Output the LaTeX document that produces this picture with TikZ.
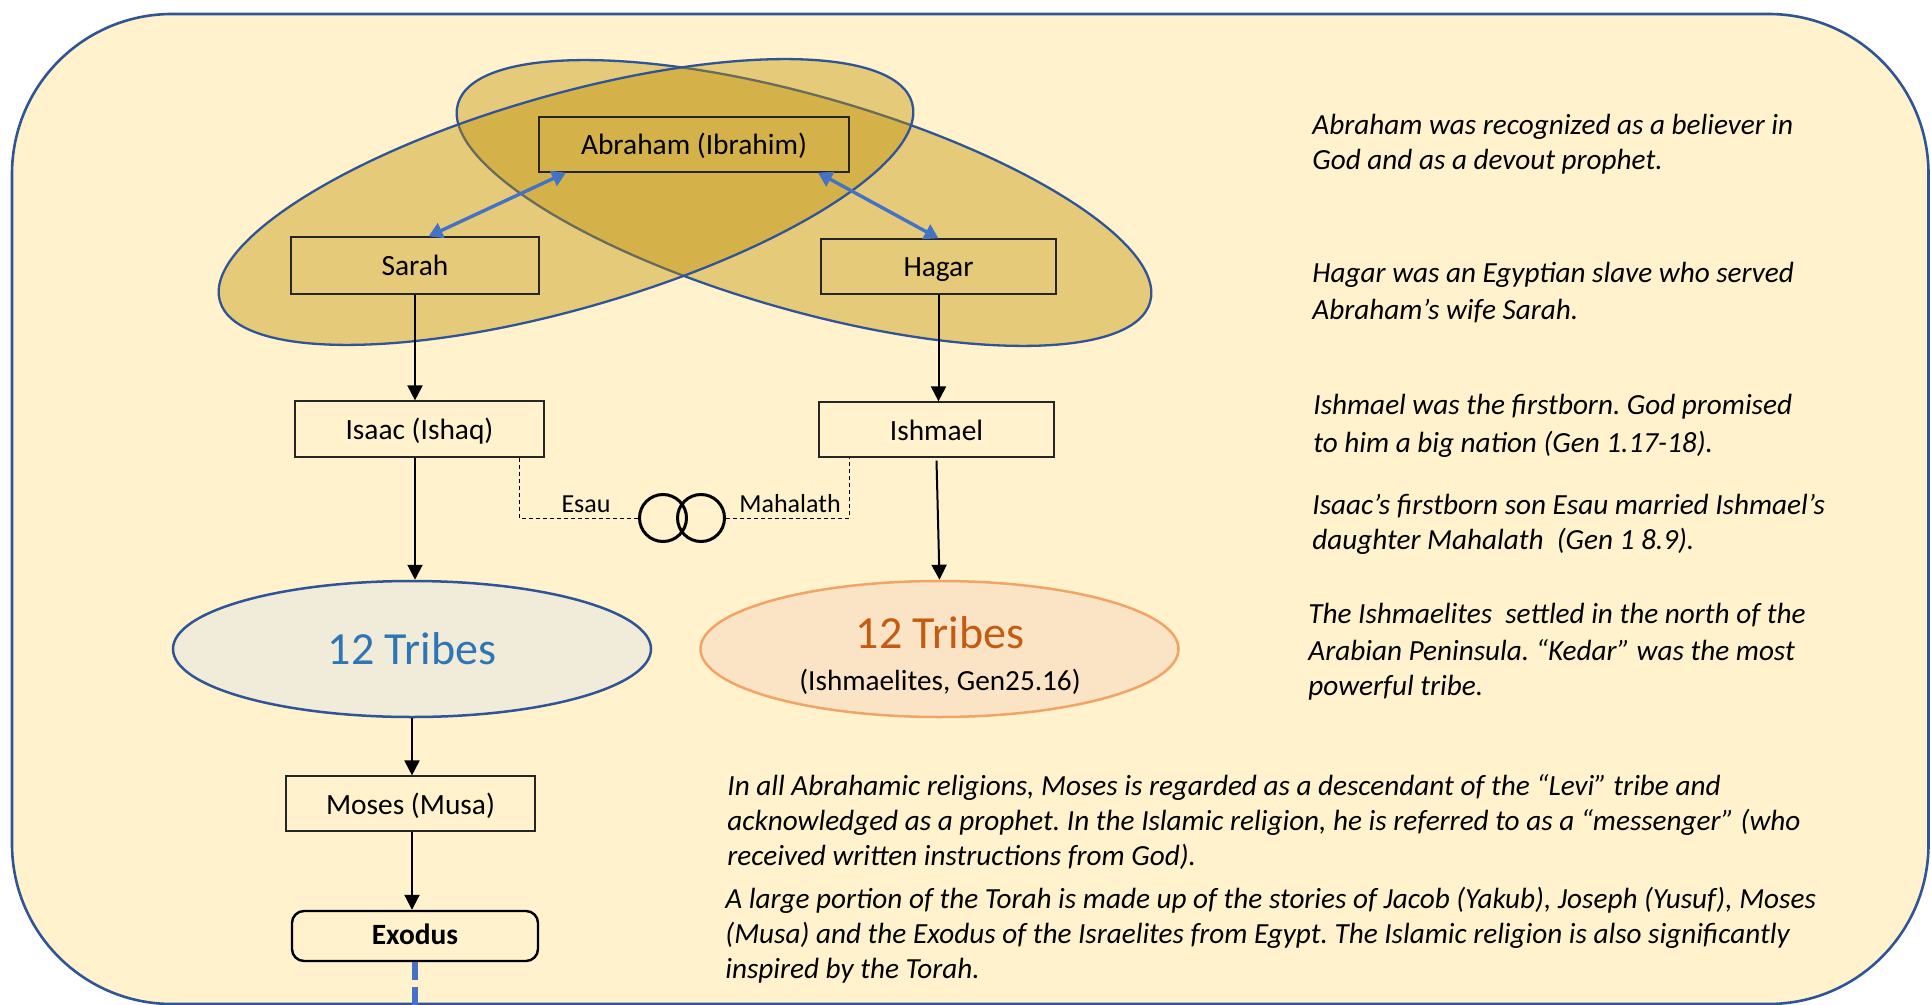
\documentclass[tikz,border=0pt]{standalone}
\usepackage{fontspec}
\setmainfont{Carlito}
\frenchspacing
\usetikzlibrary{arrows.meta,shapes.geometric,calc}
\definecolor{bg}{HTML}{FFF2CC}
\definecolor{outl}{HTML}{2F5597}
\definecolor{gold}{HTML}{BF8F00}
\definecolor{arrowblue}{HTML}{4472C4}
\definecolor{boxline}{HTML}{262626}
\definecolor{tlfill}{HTML}{F1EBD9}
\definecolor{tlblue}{HTML}{2E75B6}
\definecolor{trfill}{HTML}{FBE4C5}
\definecolor{trline}{HTML}{F2A366}
\definecolor{trtext}{HTML}{C55A11}
\tikzset{
  frame/.style={draw=outl, line width=1.3pt, fill=bg, rounded corners=80pt},
  ell/.style={draw=outl, line width=1.15pt, fill=gold, fill opacity=0.4},
  box/.style={draw=boxline, line width=0.6pt, minimum height=27.5pt, inner sep=0pt, text height=12pt, text depth=1.5pt, font=\fontsize{14.7}{16}\selectfont},
  arr/.style={-{Triangle[width=7.5pt,length=7.5pt]}, line width=1pt, black},
  barr/.style={{Triangle[width=8pt,length=7pt]}-{Triangle[width=8pt,length=7pt]}, line width=1.7pt, arrowblue},
  marry/.style={draw=black, line width=0.5pt, dash pattern=on 2pt off 1.5pt},
  ringc/.style={circle, draw=black, line width=1.5pt, minimum size=23.5pt, inner sep=0pt},
  lbl/.style={inner sep=0pt, anchor=base, font=\fontsize{13}{15}\selectfont},
  tribeL/.style={ellipse, draw=outl, line width=1.25pt, fill=tlfill, minimum width=239pt, minimum height=68pt, inner sep=0pt, text=tlblue, font=\fontsize{23}{26}\selectfont},
  tribeR/.style={ellipse, draw=trline, line width=1.25pt, fill=trfill, minimum width=239pt, minimum height=68pt, inner sep=0pt},
  bdash/.style={draw=arrowblue, line width=2.6pt, dash pattern=on 9pt off 3.5pt},
  note/.style={anchor=base west, inner sep=0pt, font=\fontsize{14.6}{17.5}\selectfont\itshape}
}
\begin{document}
\begin{tikzpicture}[x=0.5pt,y=-0.5pt]
\useasboundingbox (0,0) rectangle (1931,1005);
\path[frame] (12,14) rectangle (1928.5,1004);
% ellipses
\path[ell, rotate around={-16:(804,203)}] (804,203) ellipse [x radius=180pt, y radius=53.5pt];
\path[ell, rotate around={16:(566,202)}] (566,202) ellipse [x radius=180pt, y radius=53.5pt];
% nodes
\node[box, minimum width=155pt] (abr) at (694,144.5) {Abraham (Ibrahim)};
\node[box, minimum width=124pt, minimum height=28.5pt] (sarah) at (415,265.5) {Sarah};
\node[box, minimum width=117.5pt] (hagar) at (938.5,266.5) {Hagar};
\node[box, minimum width=124.5pt, minimum height=28pt] (isaac) at (419.5,429) {Isaac (Ishaq)};
\node[box, minimum width=117.5pt] (ish) at (936.5,429.5) {Ishmael};
\node[tribeL] (tl) at (412,649) {12 Tribes};
\node[tribeR] (tr) at (939.5,649) {};
\node[anchor=base, inner sep=0pt, text=trtext, font=\fontsize{23}{26}\selectfont] (trA) at (940,648) {12 Tribes};
\node[anchor=base, inner sep=0pt, font=\fontsize{14.6}{17}\selectfont] (trB) at (940,690) {(Ishmaelites, Gen25.16)};
\node[box, minimum width=124.5pt] (moses) at (410.5,803.5) {Moses (Musa)};
\node[box, draw=black, line width=1.2pt, rounded corners=6pt, minimum width=123pt, minimum height=25pt, text height=10pt, text depth=1.5pt, font=\fontsize{14.7}{16}\selectfont\bfseries] (exo) at (415,936) {Exodus};
% marriage ring
\node[ringc] (r1) at (663,518) {};
\node[ringc] (r2) at (701,518) {};
\node[lbl] (esau) at (586,512) {Esau};
\node[lbl] (mah) at (790,512) {Mahalath};
\coordinate (e1) at ([xshift=-12.5pt]isaac.south east);
\coordinate (m1) at ([xshift=15.5pt]ish.south west);
\draw[marry] (e1) |- (r1.west);
\draw[marry] (r2.east) -| (m1);
% blue double arrows
\coordinate (sa) at ([xshift=6.8pt]sarah.north);
\coordinate (as) at ([xshift=-64pt]abr.south);
\coordinate (ah) at ([xshift=62pt]abr.south);
\draw[barr] (sa) -- (as);
\draw[barr] (ah) -- (hagar.north);
% black arrows
\draw[arr] (sarah.south) -- (sarah.south |- isaac.north);
\draw[arr] (hagar.south) -- (hagar.south |- ish.north);
\draw[arr] (isaac.south -| sarah.south) -- (tl.north -| sarah.south);
\draw[arr] ([yshift=-1.5pt]ish.south) -- (tr.north);
\draw[arr] (tl.south) -- (tl.south |- moses.north);
\draw[arr] (moses.south -| tl.south) -- (exo.north -| tl.south);
\coordinate (exend) at (415,1006);
\draw[bdash] (exo.south) -- (exend);
% right notes
\node[note] (n1a) at (1312,135) {Abraham was recognized as a believer in};
\node[note] (n1b) at (1312,170) {God and as a devout prophet.};
\node[note] (n2a) at (1312,283) {Hagar was an Egyptian slave who served};
\node[note] (n2b) at (1312,320) {Abraham’s wife Sarah.};
\node[note] (n3a) at (1313,415) {Ishmael was the firstborn. God promised};
\node[note] (n3b) at (1313,452) {to him a big nation (Gen 1.17-18).};
\node[note] (n4a) at (1312,514) {Isaac’s firstborn son Esau married Ishmael’s};
\node[note] (n4b) at (1312,549) {daughter Mahalath\ \ (Gen 1 8.9).};
\node[note] (n5a) at (1308,623) {The Ishmaelites\ \ settled in the north of the};
\node[note] (n5b) at (1308,660) {Arabian Peninsula. “Kedar” was the most};
\node[note] (n5c) at (1308,695) {powerful tribe.};
% bottom notes
\node[note] (b1a) at (727,795) {In all Abrahamic religions, Moses is regarded as a descendant of the “Levi” tribe and};
\node[note] (b1b) at (727,830) {acknowledged as a prophet. In the Islamic religion, he is referred to as a “messenger” (who};
\node[note] (b1c) at (727,865) {received written instructions from God).};
\node[note] (b2a) at (725,908) {A large portion of the Torah is made up of the stories of Jacob (Yakub), Joseph (Yusuf), Moses};
\node[note] (b2b) at (725,943) {(Musa) and the Exodus of the Israelites from Egypt. The Islamic religion is also significantly};
\node[note] (b2c) at (725,978) {inspired by the Torah.};
\end{tikzpicture}
\end{document}
